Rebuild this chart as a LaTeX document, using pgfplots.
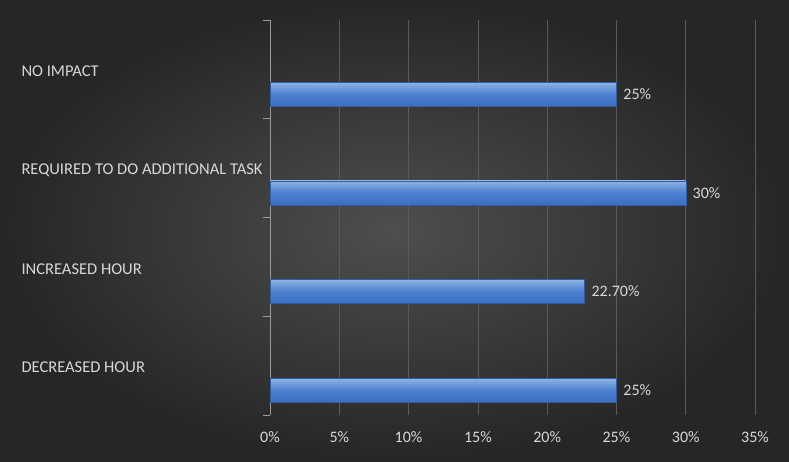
\documentclass[border=0pt]{standalone}
\usepackage{fontspec}
\setmainfont{Carlito}
\usepackage{pgfplots}
\pgfplotsset{compat=1.18}
\definecolor{bgin}{HTML}{4E4E4E}
\definecolor{bgout}{HTML}{262626}
\definecolor{txt}{HTML}{D8D8D8}
\definecolor{gridc}{HTML}{5A5A5A}
\definecolor{axc}{HTML}{9A9A9A}
\definecolor{bartop}{HTML}{90B3E6}
\definecolor{barmid}{HTML}{4C80D0}
\definecolor{barbot}{HTML}{3B6EC0}
\begin{document}
\begin{tikzpicture}[x=1pt,y=1pt]
\shade[inner color=bgin,outer color=bgout] (0,0) rectangle (789,462);
\begin{axis}[
  at={(270pt,47pt)}, anchor=south west,
  scale only axis, width=485pt, height=395pt,
  xmin=0, xmax=35, ymin=-0.5, ymax=3.5,
  xtick={0,5,...,35},
  xticklabels={0\%,5\%,10\%,15\%,20\%,25\%,30\%,35\%},
  ytick={0,1,2,3},
  yticklabels={DECREASED HOUR,INCREASED HOUR,REQUIRED TO DO ADDITIONAL TASK,NO IMPACT},
  minor ytick={-0.5,0.5,1.5,2.5,3.5},
  major tick length=0pt,
  minor tick length=7pt,
  tick align=outside,
  minor tick style={axc, line width=0.8pt},
  axis x line*=bottom, axis y line*=left,
  x axis line style={draw=none},
  y axis line style={axc, line width=0.8pt, -},
  xmajorgrids, major grid style={gridc, line width=0.6pt},
  /pgf/number format/assume math mode=true,
  xticklabel style={font=\fontsize{16}{18}\selectfont, text=txt, yshift=-13pt},
  yticklabel style={font=\fontsize{16.5}{19}\selectfont, text=txt, anchor=west, xshift=-252pt, yshift=-2pt},
  barsty/.style={xbar, bar width=24pt, draw=barbot!85!black, line width=0.3pt, top color=bartop, bottom color=barbot, middle color=barmid},
  nodes near coords,
  point meta=explicit symbolic,
  nodes near coords style={font=\fontsize{16}{18}\selectfont, text=txt, anchor=west, xshift=3.5pt},
  clip=false,
]
\addplot[barsty] coordinates {(25,-0.25) [25\%]};
\addplot[barsty] coordinates {(22.7,0.75) [22.70\%]};
\addplot[barsty] coordinates {(30,1.75) [30\%]};
\addplot[barsty] coordinates {(25,2.75) [25\%]};
\end{axis}
\pgfresetboundingbox
\useasboundingbox (0,0) rectangle (789,462);
\end{tikzpicture}
\end{document}
